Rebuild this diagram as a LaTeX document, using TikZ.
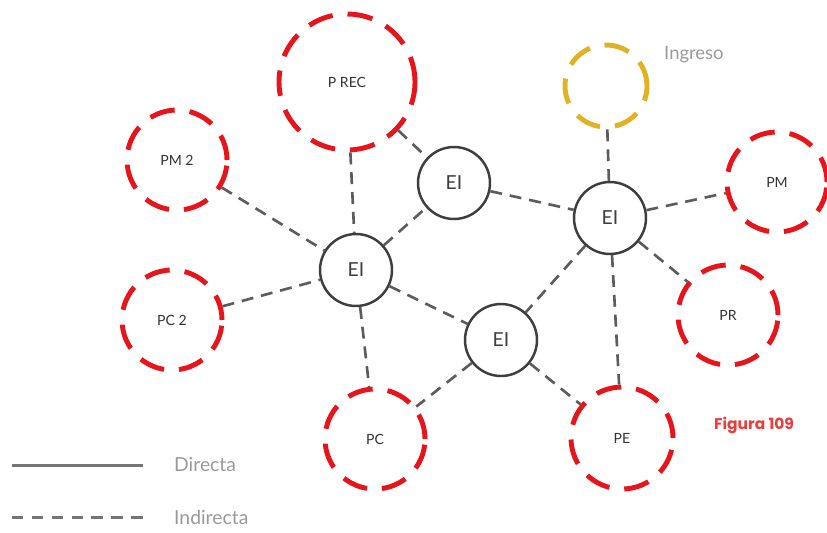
\documentclass[tikz,border=0pt]{standalone}
\usepackage{fontspec}
\setmainfont{Lato}
\newfontfamily\figfont{Poppins}
\usetikzlibrary{arrows,arrows.meta}

\definecolor{ringred}{HTML}{E8141C}
\definecolor{ringyellow}{HTML}{E2B226}
\definecolor{eigray}{HTML}{3E3E3E}
\definecolor{linkgray}{HTML}{5C5C5C}
\definecolor{labelgray}{HTML}{333333}
\definecolor{softgray}{HTML}{9A9A9A}
\definecolor{figred}{HTML}{EE3B3B}

\begin{document}
\begin{tikzpicture}[
x=0.02cm,y=-0.02cm,
ring/.style={circle,draw=ringred,line width=2.8pt,dash pattern=on 14.5pt off 8.5pt,minimum size=#1,inner sep=0pt,text=labelgray,font=\fontsize{8pt}{9pt}\selectfont},
ei/.style={circle,draw=eigray,line width=1.4pt,minimum size=1.44cm,inner sep=0pt,text=eigray,font=\fontsize{11pt}{12pt}\selectfont},
link/.style={draw=linkgray,line width=1.5pt,dash pattern=on 6.8pt off 4.5pt},
legend/.style={text=softgray,font=\fontsize{11pt}{13pt}\selectfont,anchor=west} ]

\useasboundingbox (0,0) rectangle (827,532);

\node[ring=2.72cm] (prec) at (347,82) {P REC};

\node[ring=2cm] (pm2) at (177,160) {PM 2};

\node[ring=2cm] (pc2) at (172,320) {PC 2};

\node[ring=2cm] (pm) at (777,182) {PM};

\node[ring=2cm] (pr) at (728,315) {PR};

\node[ring=2cm] (pc) at (375,439) {PC};

\node[ring=2.04cm] (pe) at (622,438) {PE};

\node[ring=1.64cm,draw=ringyellow] (ing) at (606,86) {};

\node[ei] (eiA) at (356,270) {EI};

\node[ei] (eiB) at (454,183) {EI};

\node[ei] (eiC) at (610,218) {EI};

\node[ei] (eiD) at (501,340) {EI};

\node[legend,font=\fontsize{10.5pt}{12pt}\selectfont] (ingLabel) at (658,55) {Ingreso};

\node[anchor=west,text=figred,font=\figfont\bfseries\fontsize{8.8pt}{10pt}\selectfont] (fig) at (708,425) {Figura 109};

\draw[link] (prec) -- (eiA);

\draw[link] (prec) -- (eiB);

\draw[link] (pm2) -- (eiA);

\draw[link] (pc2) -- (eiA);

\draw[link] (eiA) -- (eiB);

\draw[link] (eiA) -- (eiD);

\draw[link] (eiA) -- (pc);

\draw[link] (eiB) -- (eiC);

\draw[link] (ing) -- (eiC);

\draw[link] (eiC) -- (pm);

\draw[link] (eiC) -- (pr);

\draw[link] (eiC) -- (pe);

\draw[link] (eiC) -- (eiD);

\draw[link] (eiD) -- (pc);

\draw[link] (eiD) -- (pe);

% legend
\coordinate (dirA) at (12,465);

\coordinate (dirB) at (143,465);

\coordinate (indA) at (12,517);

\coordinate (indB) at (143,517);

\draw[draw=linkgray!85,line width=1.7pt] (dirA) -- (dirB);

\draw[link,draw=linkgray!85,line width=1.7pt,dash pattern=on 6.5pt off 4.8pt] (indA) -- (indB);

\node[legend] (dir) at (168,465) {Directa};

\node[legend] (ind) at (168,517) {Indirecta};

\end{tikzpicture}
\end{document}
